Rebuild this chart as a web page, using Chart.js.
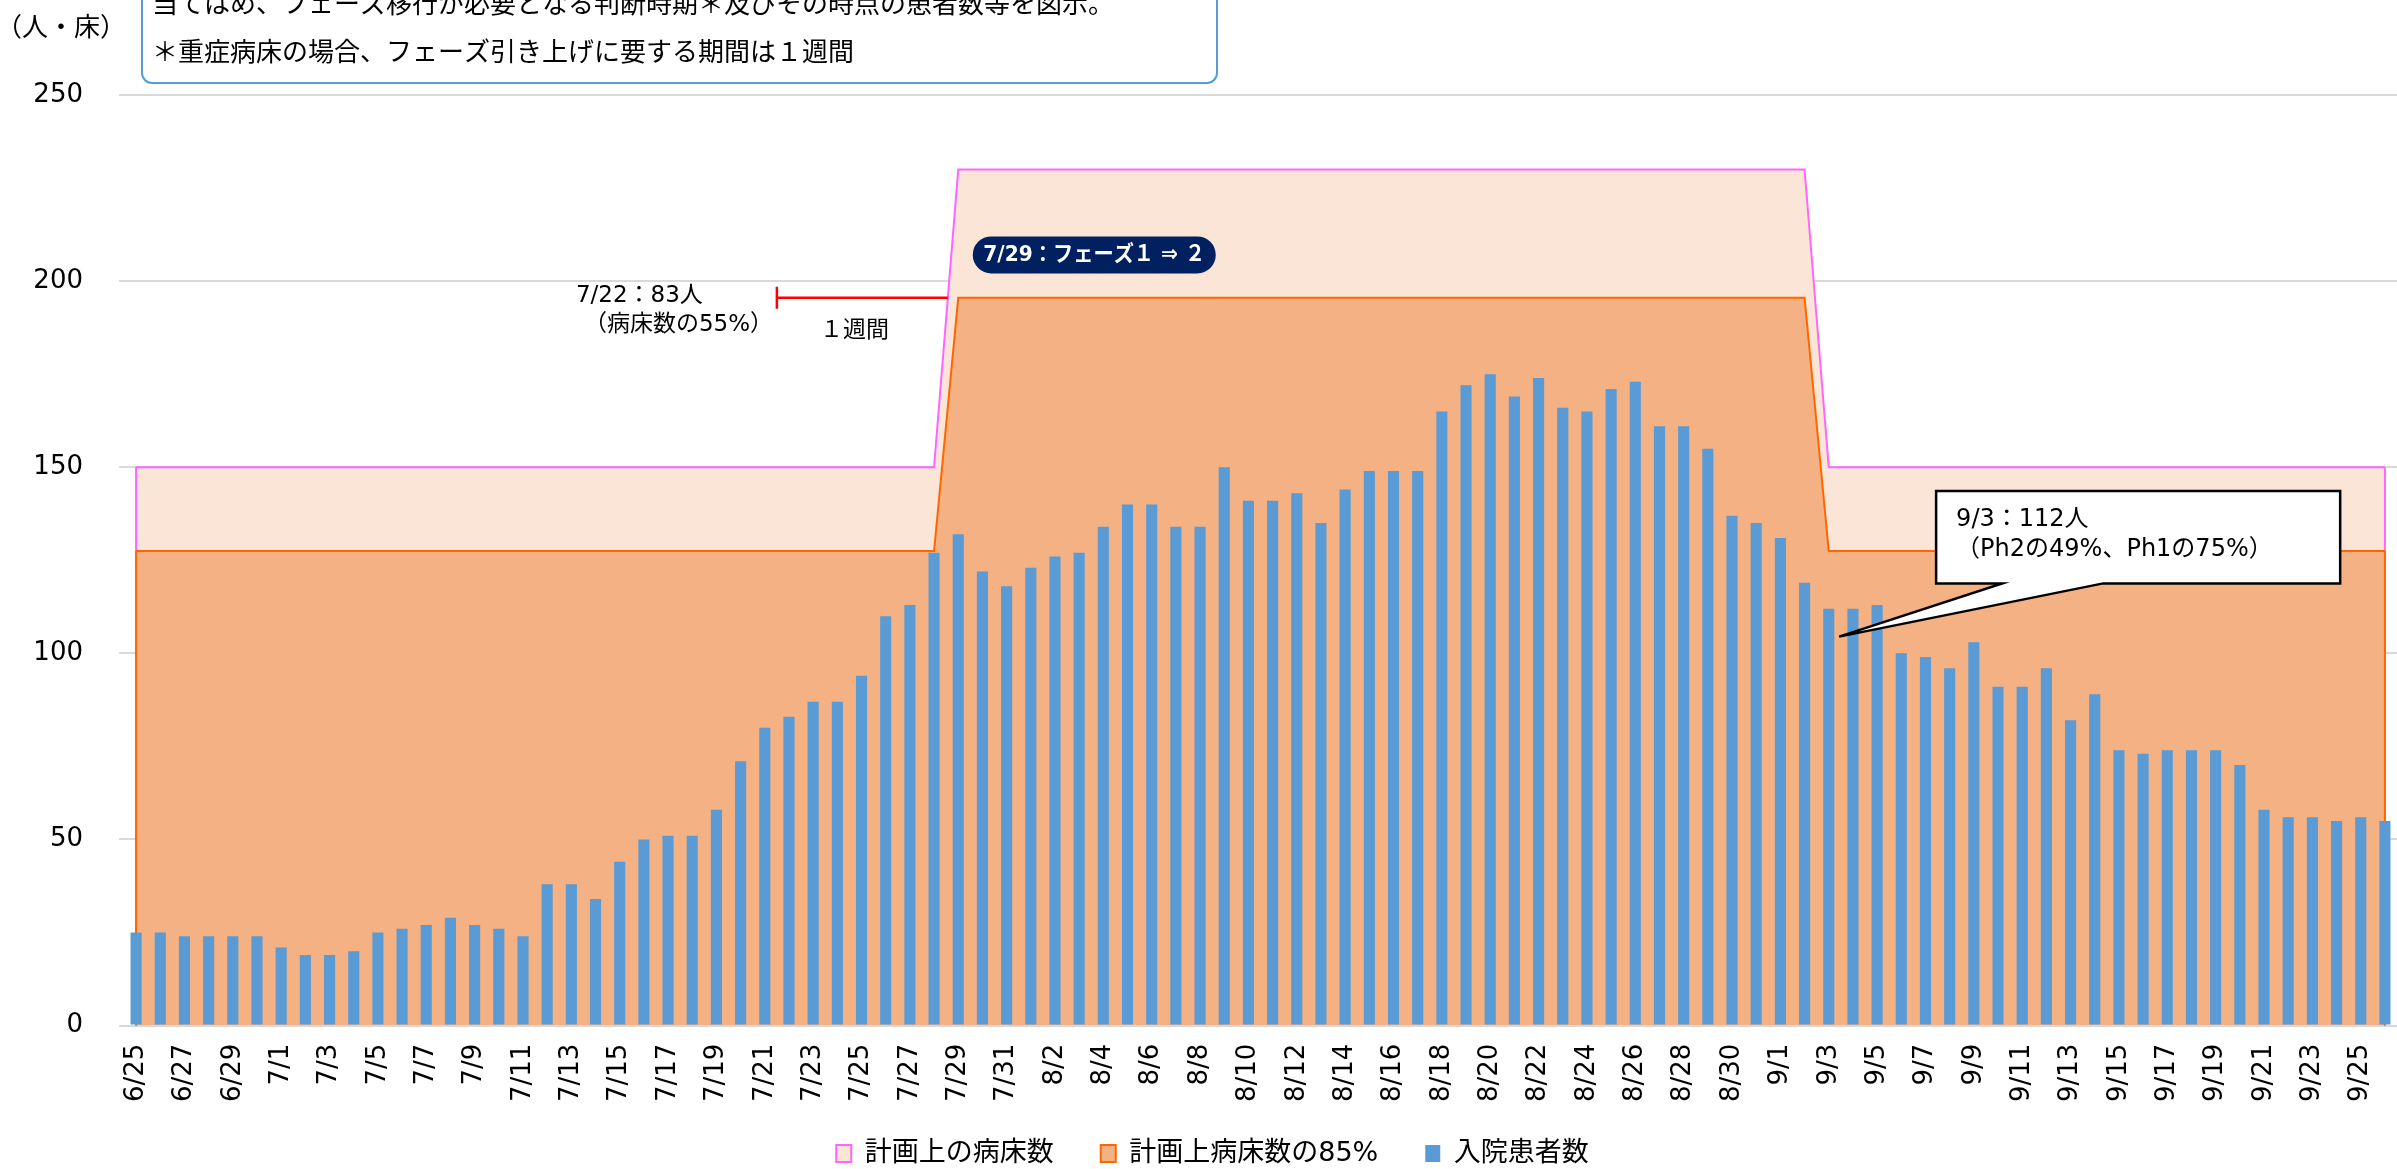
<!DOCTYPE html>
<html lang="ja">
<head>
<meta charset="utf-8">
<title>入院患者数と計画上の病床数</title>
<script src="https://cdn.jsdelivr.net/npm/chart.js@4.4.1/dist/chart.umd.min.js"></script>
<style>
  html, body { margin: 0; padding: 0; background: #fff; overflow: hidden; }
  canvas { display: block; }
</style>
</head>
<body>
<canvas id="bedChart" width="2397" height="1169"></canvas>
<script>
(function () {
  "use strict";

  // categories: 6/25 .. 9/26
  const dates = [
    "6/25", "6/26", "6/27", "6/28", "6/29", "6/30",
    "7/1", "7/2", "7/3", "7/4", "7/5", "7/6", "7/7", "7/8", "7/9", "7/10",
    "7/11", "7/12", "7/13", "7/14", "7/15", "7/16", "7/17", "7/18", "7/19", "7/20",
    "7/21", "7/22", "7/23", "7/24", "7/25", "7/26", "7/27", "7/28", "7/29", "7/30", "7/31",
    "8/1", "8/2", "8/3", "8/4", "8/5", "8/6", "8/7", "8/8", "8/9", "8/10",
    "8/11", "8/12", "8/13", "8/14", "8/15", "8/16", "8/17", "8/18", "8/19", "8/20",
    "8/21", "8/22", "8/23", "8/24", "8/25", "8/26", "8/27", "8/28", "8/29", "8/30", "8/31",
    "9/1", "9/2", "9/3", "9/4", "9/5", "9/6", "9/7", "9/8", "9/9", "9/10",
    "9/11", "9/12", "9/13", "9/14", "9/15", "9/16", "9/17", "9/18", "9/19", "9/20",
    "9/21", "9/22", "9/23", "9/24", "9/25", "9/26"
  ];

  // 入院患者数
  const patients = [
    25, 25, 24, 24, 24, 24, 21, 19, 19, 20,
    25, 26, 27, 29, 27, 26, 24, 38, 38, 34,
    44, 50, 51, 51, 58, 71, 80, 83, 87, 87,
    94, 110, 113, 127, 132, 122, 118, 123, 126, 127,
    134, 140, 140, 134, 134, 150, 141, 141, 143, 135,
    144, 149, 149, 149, 165, 172, 175, 169, 174, 166,
    165, 171, 173, 161, 161, 155, 137, 135, 131, 119,
    112, 112, 113, 100, 99, 96, 103, 91, 91, 96,
    82, 89, 74, 73, 74, 74, 74, 70, 58, 56,
    56, 55, 56, 55
  ];

  // 計画上の病床数
  const planBeds = [
    150, 150, 150, 150, 150, 150, 150, 150, 150, 150,
    150, 150, 150, 150, 150, 150, 150, 150, 150, 150,
    150, 150, 150, 150, 150, 150, 150, 150, 150, 150,
    150, 150, 150, 150, 230, 230, 230, 230, 230, 230,
    230, 230, 230, 230, 230, 230, 230, 230, 230, 230,
    230, 230, 230, 230, 230, 230, 230, 230, 230, 230,
    230, 230, 230, 230, 230, 230, 230, 230, 230, 230,
    150, 150, 150, 150, 150, 150, 150, 150, 150, 150,
    150, 150, 150, 150, 150, 150, 150, 150, 150, 150,
    150, 150, 150, 150
  ];

  // 計画上病床数の85%
  const planBeds85 = [
    127.5, 127.5, 127.5, 127.5, 127.5, 127.5, 127.5, 127.5, 127.5, 127.5,
    127.5, 127.5, 127.5, 127.5, 127.5, 127.5, 127.5, 127.5, 127.5, 127.5,
    127.5, 127.5, 127.5, 127.5, 127.5, 127.5, 127.5, 127.5, 127.5, 127.5,
    127.5, 127.5, 127.5, 127.5, 195.5, 195.5, 195.5, 195.5, 195.5, 195.5,
    195.5, 195.5, 195.5, 195.5, 195.5, 195.5, 195.5, 195.5, 195.5, 195.5,
    195.5, 195.5, 195.5, 195.5, 195.5, 195.5, 195.5, 195.5, 195.5, 195.5,
    195.5, 195.5, 195.5, 195.5, 195.5, 195.5, 195.5, 195.5, 195.5, 195.5,
    127.5, 127.5, 127.5, 127.5, 127.5, 127.5, 127.5, 127.5, 127.5, 127.5,
    127.5, 127.5, 127.5, 127.5, 127.5, 127.5, 127.5, 127.5, 127.5, 127.5,
    127.5, 127.5, 127.5, 127.5
  ];

  const noteLines = [
    "当てはめ、フェーズ移行が必要となる判断時期＊及びその時点の患者数等を図示。",
    "＊重症病床の場合、フェーズ引き上げに要する期間は１週間"
  ];

  const FONT = '"DejaVu Sans", "Noto Sans CJK JP", sans-serif';
  const JP_FONT = '"Noto Sans CJK JP", sans-serif';
  Chart.defaults.font.family = FONT;
  Chart.defaults.color = "#000";

  // Excel-style area outline: vertical sides at both ends
  const areaEdges = {
    id: "areaEdges",
    afterDatasetDraw(chart, args) {
      const meta = args.meta;
      if (meta.type !== "line") return;
      const ds = chart.data.datasets[args.index];
      const pts = meta.data;
      const base = chart.scales.y.getPixelForValue(0);
      const ctx = chart.ctx;
      ctx.save();
      ctx.strokeStyle = ds.borderColor;
      ctx.lineWidth = ds.borderWidth;
      ctx.beginPath();
      [pts[0], pts[pts.length - 1]].forEach(function (p) {
        ctx.moveTo(p.x, p.y);
        ctx.lineTo(p.x, base);
      });
      ctx.stroke();
      ctx.restore();
    }
  };

  const notes = {
    id: "notes",
    afterDraw(chart) {
      const ctx = chart.ctx;
      const px = (i) => chart.scales.x.getPixelForValue(i);
      const py = (v) => chart.scales.y.getPixelForValue(v);
      ctx.save();
      ctx.textAlign = "left";
      ctx.textBaseline = "middle";

      // note box (cut by the top edge)
      ctx.beginPath();
      ctx.roundRect(142, -20, 1075, 103, 10);
      ctx.fillStyle = "#fff";
      ctx.fill();
      ctx.lineWidth = 2;
      ctx.strokeStyle = "#5B9BD5";
      ctx.stroke();
      ctx.fillStyle = "#000";
      ctx.font = "26px " + JP_FONT;
      ctx.fillText(noteLines[0], 152, 3);
      ctx.fillText(noteLines[1], 152, 51);

      // unit
      ctx.textAlign = "center";
      ctx.fillText("（人・床）", 61, 26);
      ctx.textAlign = "left";

      // 1 week bracket
      const ry = py(195.5);
      const rx0 = px(26.5);
      const rx1 = px(33.57);
      ctx.strokeStyle = "#FF0000";
      ctx.lineWidth = 2.5;
      ctx.beginPath();
      ctx.moveTo(rx0, ry);
      ctx.lineTo(rx1, ry);
      ctx.moveTo(rx0, ry - 11);
      ctx.lineTo(rx0, ry + 11);
      ctx.stroke();
      ctx.font = "23px " + FONT;
      ctx.fillText("7/22：83人", rx0 - 201, ry - 2);
      ctx.fillText("（病床数の55%）", rx0 - 193, ry + 27);
      ctx.fillText("１週間", rx0 + 43, ry + 33);

      // phase pill
      const pl = px(34.6);
      const pt = py(212);
      ctx.beginPath();
      ctx.roundRect(pl, pt, 243, 37, 18.5);
      ctx.fillStyle = "#002060";
      ctx.fill();
      ctx.fillStyle = "#fff";
      ctx.font = "bold 22px " + FONT;
      ctx.textAlign = "center";
      ctx.fillText("7/29：フェーズ１ ⇒ ２", pl + 121.5, pt + 19, 222);
      ctx.textAlign = "left";

      // callout for 9/3
      const L = px(74.44), R = px(91.15), T = py(143.6), B = py(118.8);
      const b1 = px(77.17), b2 = px(81.35);
      const tx = px(70.43), ty = py(104.5);
      ctx.beginPath();
      ctx.moveTo(L, T);
      ctx.lineTo(R, T);
      ctx.lineTo(R, B);
      ctx.lineTo(b2, B);
      ctx.lineTo(tx, ty);
      ctx.lineTo(b1, B);
      ctx.lineTo(L, B);
      ctx.closePath();
      ctx.fillStyle = "#fff";
      ctx.fill();
      ctx.strokeStyle = "#000";
      ctx.lineWidth = 2.5;
      ctx.stroke();
      ctx.fillStyle = "#000";
      ctx.font = "24px " + FONT;
      ctx.fillText("9/3：112人", L + 20, T + 29);
      ctx.fillText("（Ph2の49%、Ph1の75%）", L + 20, T + 59);
      ctx.restore();
    }
  };

  document.addEventListener("DOMContentLoaded", function () {
    const el = document.getElementById("bedChart");
    new Chart(el, {
      type: "bar",
      data: {
        labels: dates,
        datasets: [
          {
            type: "line",
            label: "計画上の病床数",
            data: planBeds,
            borderColor: "#FF66FF",
            backgroundColor: "#FBE5D6",
            borderWidth: 2,
            fill: "origin",
            pointRadius: 0,
            tension: 0,
            order: 2
          },
          {
            type: "line",
            label: "計画上病床数の85%",
            data: planBeds85,
            borderColor: "#FF6600",
            backgroundColor: "#F4B183",
            borderWidth: 2,
            fill: "origin",
            pointRadius: 0,
            tension: 0,
            order: 1
          },
          {
            type: "bar",
            label: "入院患者数",
            data: patients,
            backgroundColor: "#5B9BD5",
            barPercentage: 0.46,
            categoryPercentage: 1,
            order: 0
          }
        ]
      },
      options: {
        responsive: false,
        animation: false,
        events: [],
        layout: { padding: { top: 95, left: 24, right: -4, bottom: -8 } },
        plugins: {
          tooltip: { enabled: false },
          legend: {
            position: "bottom",
            labels: {
              font: { size: 27 },
              color: "#000",
              boxWidth: 15,
              boxHeight: 17,
              padding: 20,
              generateLabels(chart) {
                const items = Chart.defaults.plugins.legend.labels.generateLabels(chart);
                items.sort((a, b) => a.datasetIndex - b.datasetIndex);
                items.forEach((it, k) => { if (k < items.length - 1) it.text += "\u3000"; });
                return items;
              }
            }
          }
        },
        scales: {
          x: {
            offset: true,
            afterFit: (s) => { s.paddingLeft = 0; s.paddingRight = 0; },
            grid: { display: false, drawTicks: false },
            border: { color: "#D9D9D9", width: 2 },
            ticks: {
              autoSkip: false,
              maxRotation: 90,
              minRotation: 90,
              padding: 18,
              font: { size: 26 },
              callback: (v, i) => (i % 2 === 0 ? dates[i] : "")
            }
          },
          y: {
            min: 0,
            max: 250,
            afterFit: (s) => { s.width = 100; },
            grid: { color: "#D9D9D9", lineWidth: 2, tickLength: 5 },
            border: { display: false },
            ticks: { stepSize: 50, padding: 36, font: { size: 26 } }
          }
        }
      },
      plugins: [areaEdges, notes]
    });
  });
})();
</script>
</body>
</html>
